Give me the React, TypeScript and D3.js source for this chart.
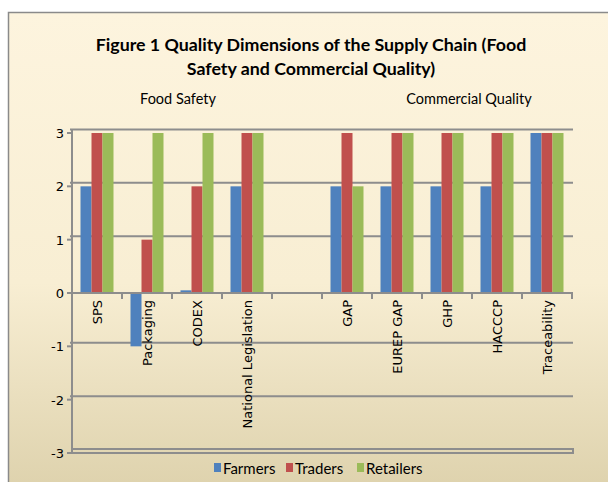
import React from 'react';
import * as d3 from 'd3';

// chart data
const categories = ['SPS', 'Packaging', 'CODEX', 'National Legislation', '', 'GAP', 'EUREP GAP', 'GHP', 'HACCCP', 'Traceability'];
const seriesNames = ['Farmers', 'Traders', 'Retailers'];
const farmers = [2, -1, 0.05, 2, null, 2, 2, 2, 2, 3];
const traders = [3, 1, 2, 3, null, 3, 3, 3, 3, 3];
const retailers = [3, 3, 3, 3, null, 2, 3, 3, 3, 3];
const yTicks = [3, 2, 1, 0, -1, -2, -3];
const colors = ['#4f81bd', '#c0504d', '#9bbb59'];

const W = 608;
const H = 482;
const plot = { left: 72, right: 572, top: 133, bottom: 453 };

const App = () => {
  const series = [farmers, traders, retailers];

  const x0 = d3.scaleBand<string>()
    .domain(categories.map((c, i) => `${i}`))
    .range([plot.left, plot.right])
    .padding(0);
  const x1 = d3.scaleBand<string>()
    .domain(seriesNames)
    .range([8.5, x0.bandwidth() - 8.5])
    .padding(0);
  const y = d3.scaleLinear().domain([-3, 3]).range([plot.bottom, plot.top]);

  const grid = '#8d8d8d';
  const font = '"DejaVu Sans", Verdana, sans-serif';
  const titleFont = 'Lato, Calibri, sans-serif';

  // legend layout
  const legendItems = [
    { name: 'Farmers', x: 214 },
    { name: 'Traders', x: 286 },
    { name: 'Retailers', x: 357 },
  ];

  return (
    <svg width={W} height={H} style={{ position: 'absolute', left: 0, top: 0 }}>
      <defs>
        <linearGradient id="bg" x1="0" y1="0" x2="0" y2="1">
          <stop offset="0%" stopColor="#fdf4de" />
          <stop offset="55%" stopColor="#f8eed3" />
          <stop offset="100%" stopColor="#dcd0aa" />
        </linearGradient>
      </defs>
      <rect x={0} y={0} width={W} height={H} fill="#ffffff" />
      <rect x={8.5} y={12.5} width={W + 10} height={H + 10} fill="url(#bg)" stroke="#8a8a8a" strokeWidth={1.5} />

      {/* title */}
      <text x={311} y={51} textAnchor="middle" fontFamily={titleFont} fontWeight="bold" fontSize={17.8} fill="#000">
        Figure 1 Quality Dimensions of the Supply Chain (Food
      </text>
      <text x={311} y={75} textAnchor="middle" fontFamily={titleFont} fontWeight="bold" fontSize={17.8} fill="#000">
        Safety and Commercial Quality)
      </text>
      <text x={178} y={104} textAnchor="middle" fontFamily={titleFont} fontSize={14.5} fill="#000">Food Safety</text>
      <text x={469} y={104} textAnchor="middle" fontFamily={titleFont} fontSize={14.5} fill="#000">Commercial Quality</text>

      {/* gridlines */}
      {yTicks.filter(t => t !== 0 && t !== -3).map(t => (
        <line key={t} x1={plot.left - 2} x2={plot.right + 1} y1={y(t) - 3.5} y2={y(t) - 3.5} stroke={grid} strokeWidth={2} />
      ))}
      <rect x={plot.left} y={y(-3) - 4} width={plot.right - plot.left + 1} height={4} fill="none" stroke={grid} strokeWidth={2} />

      {/* bars */}
      {categories.map((c, i) => (
        <g key={i} transform={`translate(${x0(`${i}`)},0)`}>
          {series.map((s, k) => {
            const v = s[i];
            if (v === null) return null;
            const top = Math.min(y(v), y(0));
            const h = Math.abs(y(v) - y(0));
            return <rect key={k} x={x1(seriesNames[k])} y={top} width={x1.bandwidth()} height={h} fill={colors[k]} />;
          })}
        </g>
      ))}

      {/* x axis at 0 */}
      <line x1={plot.left} x2={plot.right + 1} y1={y(0)} y2={y(0)} stroke={grid} strokeWidth={2} />
      {categories.map((c, i) => (
        <line key={i} x1={(x0(`${i}`) || 0) + x0.bandwidth()} x2={(x0(`${i}`) || 0) + x0.bandwidth()} y1={y(0)} y2={y(0) + 6} stroke={grid} strokeWidth={2} />
      ))}
      {categories.map((c, i) => {
        const cx = (x0(`${i}`) || 0) + x0.bandwidth() / 2 + 5;
        return (
          <text key={i} transform={`translate(${cx},${y(0) + 7}) rotate(-90)`} textAnchor="end" fontFamily={font} fontSize={13} fill="#000">
            {c}
          </text>
        );
      })}

      {/* y axis */}
      <line x1={plot.left} x2={plot.left} y1={y(3) - 3} y2={y(-3)} stroke={grid} strokeWidth={2} />
      {yTicks.map(t => (
        <g key={t}>
          <line x1={plot.left - 5} x2={plot.left} y1={y(t)} y2={y(t)} stroke={grid} strokeWidth={2} />
          <text x={plot.left - 8} y={y(t) + 5} textAnchor="end" fontFamily={font} fontSize={13} fill="#000">{t}</text>
        </g>
      ))}

      {/* legend */}
      {legendItems.map((l, k) => (
        <g key={l.name}>
          <rect x={l.x} y={463} width={7} height={9} fill={colors[k]} />
          <text x={l.x + 9} y={474} fontFamily={titleFont} fontSize={15} fill="#000">{l.name}</text>
        </g>
      ))}
    </svg>
  );
};

export default App;
